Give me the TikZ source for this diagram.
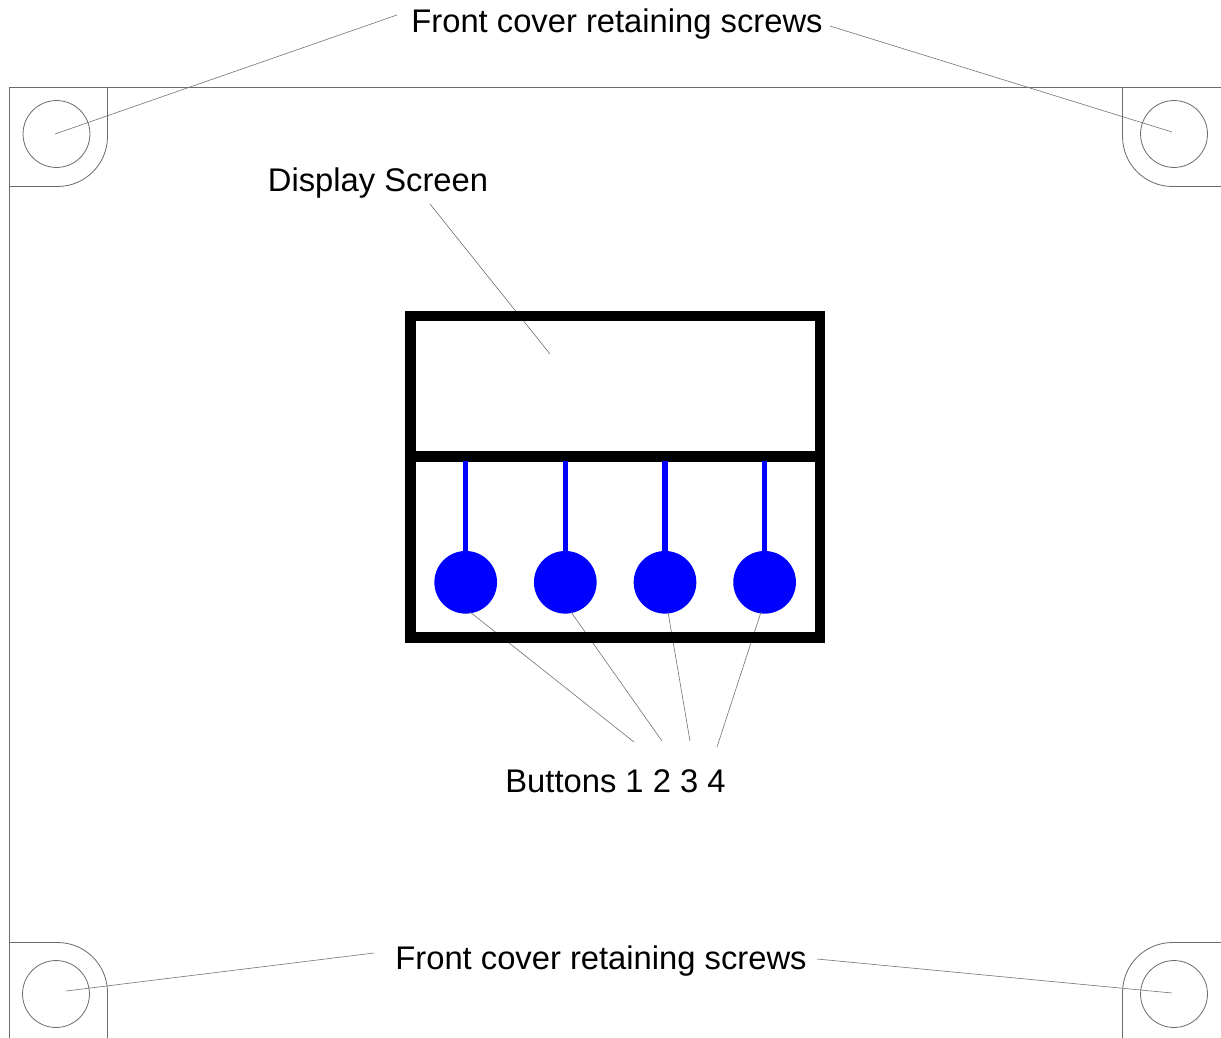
\documentclass[tikz,border=0pt]{standalone}
\usepackage{fontspec}
\setmainfont{Liberation Sans}
\tikzset{
  px/.style={x=0.75pt,y=-0.75pt},
  thinline/.style={draw=black!58,line width=0.6pt},
  leader/.style={draw=black!55,line width=0.45pt},
  heavy/.style={draw=black,line width=7.9pt},
  stem/.style={draw=blue,line width=4.1pt},
  knob/.style={circle,fill=blue,draw=none,inner sep=0pt,minimum size=47pt},
  lab/.style={font=\fontsize{24.55pt}{28pt}\selectfont,text=black,inner sep=0pt,anchor=base}
}
\begin{document}
\begin{tikzpicture}[px]
\useasboundingbox (0,0) rectangle (1221,1038);
\fill[white] (0,0) rectangle (1221,1038);
% enclosure outline
\draw[thinline] (9.5,1038) -- (9.5,87.5) -- (1221,87.5);
\draw[thinline] (107.5,87.5) -- (107.5,136.5) arc[start angle=0,end angle=-90,x radius=50,y radius=-50] -- (9.5,186.5);
\draw[thinline] (1122.5,87.5) -- (1122.5,136.5) arc[start angle=180,end angle=270,x radius=50,y radius=-50] -- (1221,186.5);
\draw[thinline] (9.5,942.5) -- (57.5,942.5) arc[start angle=90,end angle=0,x radius=50,y radius=-50] -- (107.5,1038);
\draw[thinline] (1221,942.5) -- (1172.5,942.5) arc[start angle=90,end angle=180,x radius=50,y radius=-50] -- (1122.5,1038);
% screws
\foreach \n/\x/\y in {sa/56.5/134,sb/1174/134,sc/56/994,sd/1174/994}{
  \node[circle,thinline,inner sep=0pt,minimum size=50.2pt] (\n) at (\x,\y) {};
}
% buttons
\node[knob] (b1) at (465.7,582.3) {};
\node[knob] (b2) at (565.3,582.3) {};
\node[knob] (b3) at (665,582.3) {};
\node[knob] (b4) at (764.6,582.3) {};
% labels
\node[lab] (top) at (617,33) {Front cover retaining screws};
\node[lab] (bot) at (601,969.5) {Front cover retaining screws};
\node[lab] (disp) at (378,192) {Display Screen};
\node[lab] (btn) at (615.5,792) {Buttons 1 2 3 4};
% leader ends
\coordinate (ta) at (397,15);
\coordinate (tb) at (830,26);
\coordinate (tsa) at (55,134);
\coordinate (tsb) at (1172,132);
\coordinate (ba) at (374,953);
\coordinate (bb) at (817,959);
\coordinate (bsa) at (66,991);
\coordinate (bsb) at (1172,993);
\coordinate (da) at (430,204);
\coordinate (db) at (550,354);
\coordinate (l1) at (634,742);
\coordinate (l2) at (662,741);
\coordinate (l3) at (690,741);
\coordinate (l4) at (717,747);
\coordinate (k1) at (470,612);
\coordinate (k2) at (571,612);
\coordinate (k3) at (668,612);
\coordinate (k4) at (761,612);
\draw[leader] (ta) -- (tsa);
\draw[leader] (tb) -- (tsb);
\draw[leader] (ba) -- (bsa);
\draw[leader] (bb) -- (bsb);
\draw[leader] (da) -- (db);
\draw[leader] (l1) -- (k1);
\draw[leader] (l2) -- (k2);
\draw[leader] (l3) -- (k3);
\draw[leader] (l4) -- (k4);
% unit frame
\draw[heavy,line join=miter] (410.5,316) rectangle (820,637.5);
\draw[heavy] (406,456.3) -- (825,456.3);
\foreach \k in {1,2,3,4}{
  \draw[stem] (b\k.center |- 0,461) -- (b\k.center);
}
\end{tikzpicture}
\end{document}
